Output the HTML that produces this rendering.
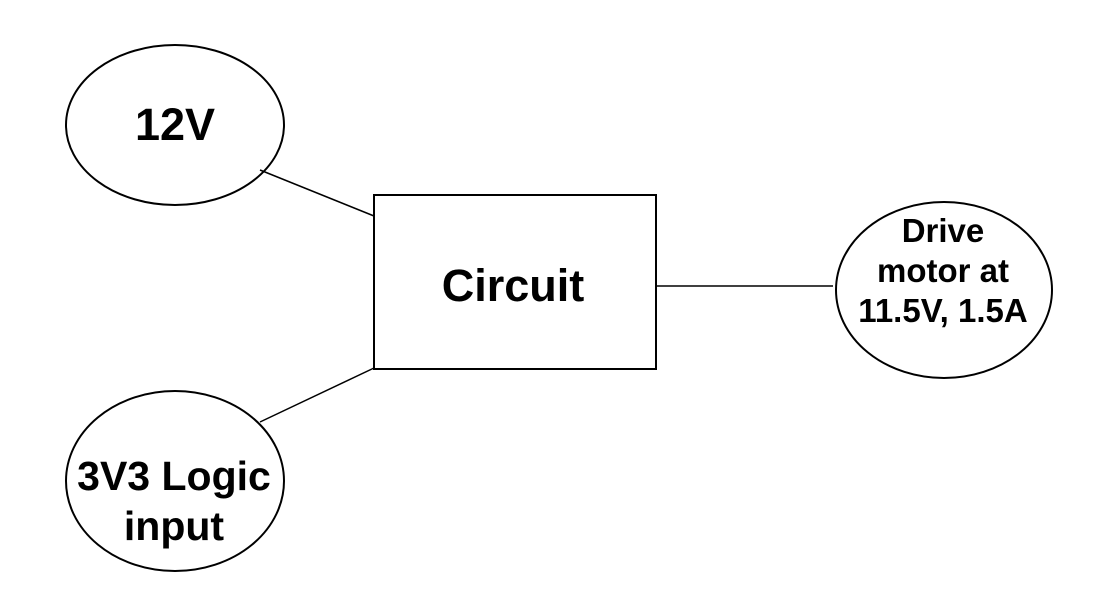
<!DOCTYPE html>
<html><head><style>body{margin:0;background:#fff}</style></head><body>
<svg width="1115" height="600" xmlns="http://www.w3.org/2000/svg" font-family="Liberation Sans, Arial, sans-serif" font-weight="bold">
<rect width="1115" height="600" fill="#fff"/>
<g fill="#fff" stroke="#000" stroke-width="2">
<ellipse cx="175" cy="125" rx="109" ry="80"/>
<ellipse cx="175" cy="481" rx="109" ry="90"/>
<ellipse cx="944" cy="290" rx="108" ry="88"/>
<rect x="374" y="195" width="282" height="174"/>
</g>
<g stroke="#000" stroke-width="1.5">
<line x1="260" y1="170" x2="374" y2="216"/>
<line x1="260" y1="422" x2="374" y2="368"/>
<line x1="655" y1="286" x2="833" y2="286"/>
</g>
<g text-anchor="middle" fill="#000">
<text x="175" y="140" font-size="45">12V</text>
<text x="174" y="490" font-size="41">3V3 Logic</text>
<text x="174" y="540" font-size="41">input</text>
<text x="513" y="301" font-size="45">Circuit</text>
<text x="943" y="242" font-size="33">Drive</text>
<text x="943" y="282" font-size="33">motor at</text>
<text x="943" y="322" font-size="33">11.5V, 1.5A</text>
</g>
</svg>
</body></html>
